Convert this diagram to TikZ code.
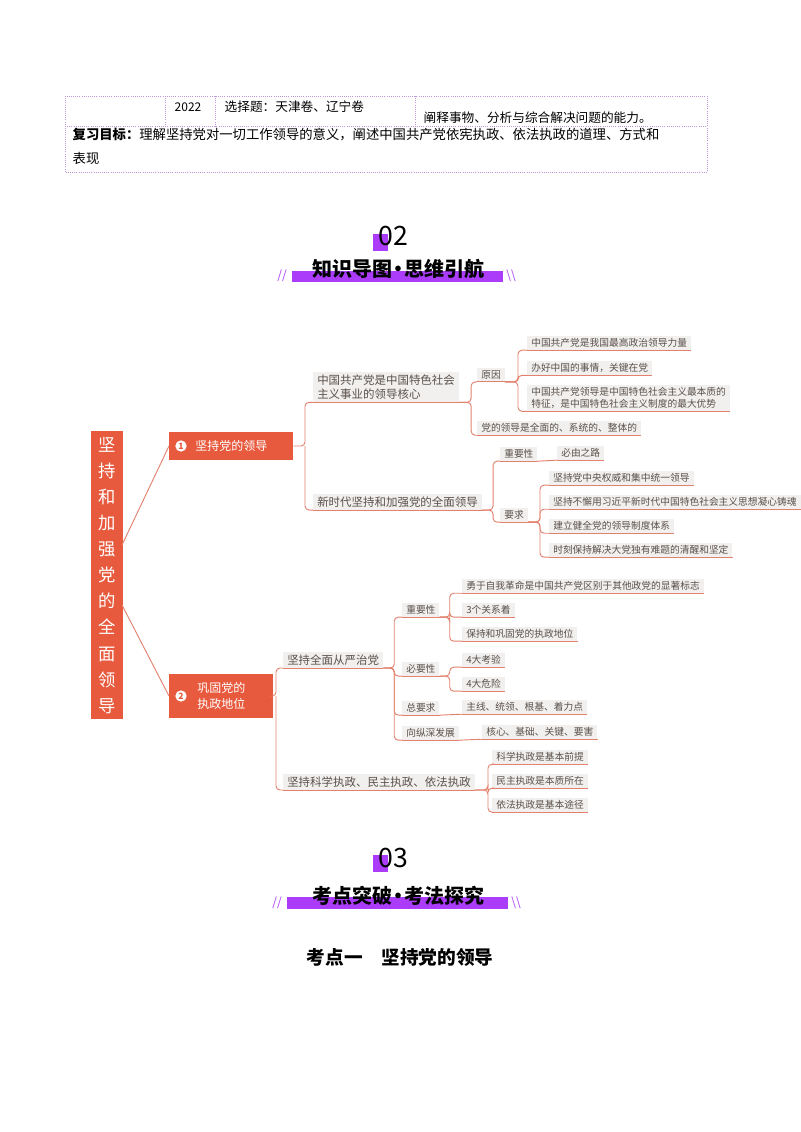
\documentclass[tikz,border=0pt]{standalone}
\usepackage{fontspec}
\setmainfont{Noto Sans CJK SC}
\usetikzlibrary{calc}
\definecolor{oran}{RGB}{232,90,62}
\definecolor{lnc}{RGB}{226,130,110}
\definecolor{purp}{RGB}{170,60,250}
\definecolor{bx}{RGB}{241,240,238}
\definecolor{tx}{RGB}{90,80,75}
\definecolor{tbl}{RGB}{190,150,220}
\tikzset{
 lf/.style={fill=bx,text=tx,font=\fontsize{7.3}{9}\selectfont,inner xsep=3pt,inner ysep=1.8pt,anchor=west,align=left},
 big/.style={lf,font=\fontsize{8.6}{11}\selectfont},
 conn/.style={draw=lnc,line width=0.7pt,rounded corners=3pt},
 mainbox/.style={fill=oran,text=white,font=\fontsize{9}{12}\selectfont,anchor=north west,align=left},
 num/.style={circle,fill=white,text=oran,inner sep=0.6pt,minimum size=8.5pt,font=\fontsize{6.5}{6.5}\selectfont\bfseries}
}
\newcommand{\ul}[1]{\draw[draw=lnc,line width=0.7pt] (#1.south west)--(#1.south east);}
\newcommand{\lk}[3]{\draw[conn] (#1.south east) -- ($(#1.south east)+(#3,0)$) |- (#2.south west);}
\begin{document}
\begin{tikzpicture}[x=0.75pt,y=-0.75pt]
\useasboundingbox (0,0) rectangle (800,1132);
% table
\draw[tbl,densely dotted,line width=0.6pt] (65,96) rectangle (707,172);
\draw[tbl,densely dotted,line width=0.6pt] (65,126)--(707,126) (165,96)--(165,126) (215,96)--(215,126) (415,96)--(415,126);
\node[font=\fontsize{9}{11}\selectfont] (y22) at (188,107) {2022};
\node[font=\fontsize{9.5}{11}\selectfont,anchor=west] (xz) at (220,107) {选择题：天津卷、辽宁卷};
\node[font=\fontsize{9.5}{11}\selectfont,anchor=west] (cs) at (419,118) {阐释事物、分析与综合解决问题的能力。};
\node[font=\fontsize{10}{11}\selectfont,anchor=west] (fx) at (68,135) {\textbf{复习目标：}理解坚持党对一切工作领导的意义，阐述中国共产党依宪执政、依法执政的道理、方式和};
\node[font=\fontsize{10}{11}\selectfont,anchor=west] (bx2) at (68,158) {表现};
% header 02
\fill[purp] (373,234) rectangle (388,251);
\node[font=\fontsize{20}{22}\selectfont] (n02) at (393,236) {02};
\fill[purp] (292,271) rectangle (503,282);
\node[font=\fontsize{15}{16}\selectfont\bfseries] (h02) at (398,269) {知识导图\kern-3pt•\kern-3pt思维引航};
\node[text=purp,font=\fontsize{9}{10}\selectfont\itshape] (s1) at (282,276) {//};
\node[text=purp,font=\fontsize{9}{10}\selectfont] (s2) at (511,276) {\textbackslash\textbackslash};
% header 03
\fill[purp] (373,855) rectangle (388,872);
\node[font=\fontsize{20}{22}\selectfont] (n03) at (393,858) {03};
\fill[purp] (287,897) rectangle (508,909);
\node[font=\fontsize{15}{16}\selectfont\bfseries] (h03) at (398,896) {考点突破\kern-3pt•\kern-3pt考法探究};
\node[text=purp,font=\fontsize{9}{10}\selectfont\itshape] (s3) at (277,903) {//};
\node[text=purp,font=\fontsize{9}{10}\selectfont] (s4) at (516,903) {\textbackslash\textbackslash};
\node[font=\fontsize{14}{16}\selectfont\bfseries] (kd) at (400,957) {考点一\quad 坚持党的领导};
% root
\node[fill=oran,text=white,font=\fontsize{13}{19.6}\selectfont,minimum width=23.5pt,minimum height=216pt,inner sep=3pt,align=center,anchor=north west] (root) at (91,431) {坚\\持\\和\\加\\强\\党\\的\\全\\面\\领\\导};
\node[mainbox,minimum width=93pt,minimum height=21pt,inner xsep=18pt,anchor=west] (b1) at (169,446) {坚持党的领导};
\node[num] (c1) at (181,446) {1};
\node[mainbox,minimum width=78pt,minimum height=33pt,inner xsep=18pt,anchor=west] (b2) at (169,696) {巩固党的\\执政地位};
\node[num] (c2) at (181,696) {2};
\draw[lnc,line width=0.7pt] (122,545)--(b1.west) (122,605)--(b2.west);
% branch 1
\node[big] (a1) at (313,387) {中国共产党是中国特色社会\\主义事业的领导核心}; \ul{a1}
\node[big] (a2) at (313,502) {新时代坚持和加强党的全面领导}; \ul{a2}
\draw[conn] (b1.east) -- (305,446) |- (a1.south west);
\draw[conn] (305,446) |- (a2.south west);
\node[lf] (r1) at (477,375) {原因}; \ul{r1}
\node[lf] (r2) at (477,428) {党的领导是全面的、系统的、整体的}; \ul{r2}
\lk{a1}{r1}{12} \lk{a1}{r2}{12}
\node[lf] (y1) at (527,343) {中国共产党是我国最高政治领导力量}; \ul{y1}
\node[lf] (y2) at (527,368) {办好中国的事情，关键在党}; \ul{y2}
\node[lf] (y3) at (527,398) {中国共产党领导是中国特色社会主义最本质的\\特征，是中国特色社会主义制度的最大优势}; \ul{y3}
\lk{r1}{y1}{13} \lk{r1}{y2}{13} \lk{r1}{y3}{13}
\node[lf] (z1) at (500,454) {重要性}; \ul{z1}
\node[lf] (z2) at (500,515) {要求}; \ul{z2}
\lk{a2}{z1}{11} \lk{a2}{z2}{11}
\node[lf] (z11) at (557,453) {必由之路}; \ul{z11}
\draw[conn] (z1.south east)--(z11.south west);
\node[lf] (q1) at (549,478) {坚持党中央权威和集中统一领导}; \ul{q1}
\node[lf] (q2) at (549,502) {坚持不懈用习近平新时代中国特色社会主义思想凝心铸魂}; \ul{q2}
\node[lf] (q3) at (549,526) {建立健全党的领导制度体系}; \ul{q3}
\node[lf] (q4) at (549,550) {时刻保持解决大党独有难题的清醒和坚定}; \ul{q4}
\lk{z2}{q1}{12} \lk{z2}{q2}{12} \lk{z2}{q3}{12} \lk{z2}{q4}{12}
% branch 2
\node[big] (d1) at (283,660) {坚持全面从严治党}; \ul{d1}
\node[big] (d2) at (283,782) {坚持科学执政、民主执政、依法执政}; \ul{d2}
\draw[conn] (b2.east) -- (276,696) |- (d1.south west);
\draw[conn] (276,696) |- (d2.south west);
\node[lf] (e1) at (402,610) {重要性}; \ul{e1}
\node[lf] (e2) at (402,669) {必要性}; \ul{e2}
\node[lf] (e3) at (402,708) {总要求}; \ul{e3}
\node[lf] (e4) at (402,733) {向纵深发展}; \ul{e4}
\lk{d1}{e1}{11} \lk{d1}{e2}{11} \lk{d1}{e3}{11} \lk{d1}{e4}{11}
\node[lf] (f1) at (462,586) {勇于自我革命是中国共产党区别于其他政党的显著标志}; \ul{f1}
\node[lf] (f2) at (462,610) {3个关系着}; \ul{f2}
\node[lf] (f3) at (462,634) {保持和巩固党的执政地位}; \ul{f3}
\lk{e1}{f1}{10} \lk{e1}{f2}{10} \lk{e1}{f3}{10}
\node[lf] (g1) at (462,660) {4大考验}; \ul{g1}
\node[lf] (g2) at (462,684) {4大危险}; \ul{g2}
\lk{e2}{g1}{10} \lk{e2}{g2}{10}
\node[lf] (h1) at (462,707) {主线、统领、根基、着力点}; \ul{h1}
\draw[conn] (e3.south east)--(h1.south west);
\node[lf] (h2) at (482,732) {核心、基础、关键、要害}; \ul{h2}
\draw[conn] (e4.south east)--(h2.south west);
\node[lf] (k1) at (492,757) {科学执政是基本前提}; \ul{k1}
\node[lf] (k2) at (492,781) {民主执政是本质所在}; \ul{k2}
\node[lf] (k3) at (492,805) {依法执政是基本途径}; \ul{k3}
\lk{d2}{k1}{13} \lk{d2}{k2}{13} \lk{d2}{k3}{13}
\end{tikzpicture}
\end{document}
